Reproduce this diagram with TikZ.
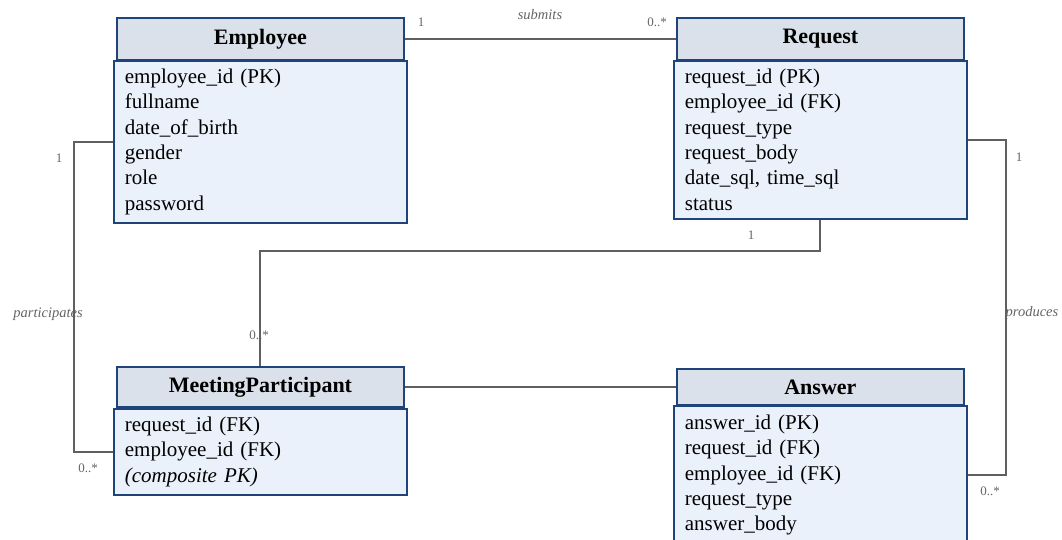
\documentclass[tikz,border=0pt]{standalone}
\usepackage{fontspec}
\setmainfont{Liberation Serif}
\usetikzlibrary{positioning}
\definecolor{hdrfill}{RGB}{218,225,234}
\definecolor{bodyfill}{RGB}{234,241,250}
\definecolor{edgeblue}{RGB}{31,68,122}
\definecolor{linkgray}{RGB}{95,95,95}
\definecolor{labgray}{RGB}{100,100,100}
\tikzset{
  hdr/.style={draw=edgeblue,line width=1.8pt,fill=hdrfill,minimum width=287pt,minimum height=42pt,
    inner sep=0pt,anchor=north west,font=\fontsize{22}{26}\selectfont\bfseries},
  attrs/.style={draw=edgeblue,line width=1.8pt,fill=bodyfill,anchor=north west,align=left,
    text width=271pt,inner xsep=11pt,inner ysep=5pt,font=\fontsize{21}{25.3}\selectfont,
    execute at begin node=\strut},
  tail/.style={execute at end node=\strut},
  link/.style={draw=linkgray,line width=2pt},
  mult/.style={text=labgray,inner sep=0pt,font=\fontsize{13}{15}\selectfont},
  role/.style={text=labgray,inner sep=0pt,font=\fontsize{14.5}{17}\selectfont\itshape}
}
\begin{document}
\begin{tikzpicture}[x=1pt,y=-1pt]
\useasboundingbox (0,0) rectangle (1062,540);
% tables
\node[attrs,tail] (empbody) at (113,60) {employee\_id (PK)\\fullname\\date\_of\_birth\\gender\\role\\password};
\node[hdr] (emp) at (116,17) {Employee};
\node[attrs,execute at end node={\rule[-4pt]{0pt}{4pt}}] (reqbody) at (673,60) {request\_id (PK)\\employee\_id (FK)\\request\_type\\request\_body\\date\_sql, time\_sql\\status};
\node[hdr] (req) at (676,17) {Request};
\node[attrs,tail] (mpbody) at (113,408) {request\_id (FK)\\employee\_id (FK)\\\textit{(composite PK)}};
\node[hdr,minimum height=40pt] (mp) at (116,366) {MeetingParticipant};
\node[attrs,tail,inner ysep=6pt] (ansbody) at (673,405) {answer\_id (PK)\\request\_id (FK)\\employee\_id (FK)\\request\_type\\answer\_body};
\node[hdr,minimum height=36pt] (ans) at (676,368) {Answer};
% relations
\draw[link] (emp.east) -- (req.west);
\draw[link] (empbody.west) -- ++(-39,0) coordinate (pleft) |- (mpbody.west);
\draw[link] (reqbody.south) -- ++(0,31) -| (mp.north);
\draw[link] (reqbody.east) -- ++(38,0) coordinate (pright) |- (ansbody.east);
\draw[link] (mp.east) -- (ans.west);
% labels
\node[mult] (m1) at (421,22) {1};
\node[mult] (m2) at (657,22) {0..*};
\node[role] (r1) at (540,15) {submits};
\node[mult] (m3) at (59,158) {1};
\node[mult] (m4) at (88,468) {0..*};
\node[role] (r2) at (48,314) {participates};
\node[mult] (m5) at (751,235) {1};
\node[mult] (m6) at (259,335) {0..*};
\node[mult] (m7) at (1019,157) {1};
\node[mult] (m8) at (990,491) {0..*};
\node[role] (r3) at (1032,313) {produces};
\end{tikzpicture}
\end{document}
